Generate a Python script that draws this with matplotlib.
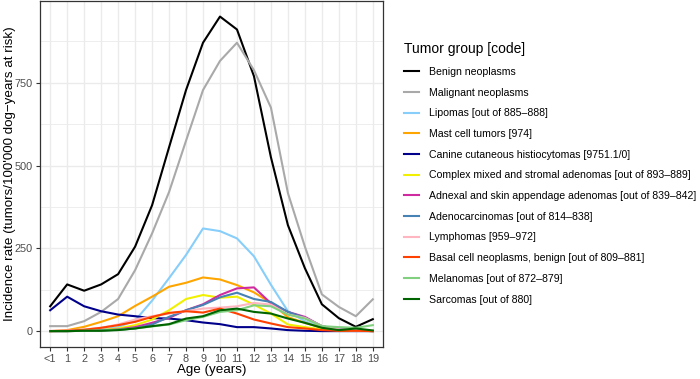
import matplotlib
matplotlib.use("Agg")
import matplotlib.pyplot as plt
from matplotlib.lines import Line2D

plt.rcParams['font.family'] = ['Liberation Sans', 'DejaVu Sans']

ages = ["<1"] + [str(i) for i in range(1, 20)]

benign = [75, 141, 122, 141, 172, 255, 380, 555, 728, 871, 950, 911, 770, 525, 320, 190, 81, 39, 13, 36]
malignant = [15, 15, 30, 58, 97, 184, 295, 420, 575, 728, 816, 871, 788, 675, 417, 255, 111, 73, 45, 96]
lipomas = [0, 0, 2, 5, 12, 32, 92, 160, 230, 310, 302, 280, 226, 140, 60, 30, 10, 5, 2, 0]
mast = [0, 3, 13, 28, 45, 76, 104, 134, 146, 162, 156, 139, 117, 85, 42, 25, 10, 3, 2, 0]
histio = [63, 104, 75, 60, 50, 45, 39, 38, 33, 26, 21, 12, 12, 8, 3, 1, 0, 0, 0, 0]
complex_mixed = [0, 0, 1, 3, 8, 18, 35, 63, 97, 109, 101, 104, 80, 53, 20, 12, 5, 2, 1, 0]
adnexal = [0, 0, 1, 2, 5, 12, 25, 40, 63, 81, 109, 129, 132, 84, 58, 43, 15, 5, 2, 0]
adenocarc = [0, 0, 1, 2, 4, 8, 20, 43, 63, 79, 102, 116, 97, 88, 58, 40, 15, 5, 2, 0]
lymphomas = [1, 2, 5, 10, 20, 35, 45, 53, 60, 68, 71, 75, 85, 80, 50, 40, 15, 5, 2, 0]
basal = [0, 1, 4, 10, 18, 28, 43, 55, 60, 56, 68, 53, 35, 23, 12, 8, 3, 1, 1, 0]
melanomas = [0, 0, 1, 2, 4, 8, 14, 20, 33, 43, 58, 63, 78, 75, 50, 38, 15, 12, 10, 18]
sarcomas = [0, 0, 1, 1, 3, 8, 15, 21, 38, 45, 63, 68, 58, 53, 38, 25, 10, 3, 8, 2]

labels = ["Benign neoplasms", "Malignant neoplasms", "Lipomas [out of 885–888]",
          "Mast cell tumors [974]", "Canine cutaneous histiocytomas [9751.1/0]",
          "Complex mixed and stromal adenomas [out of 893–889]",
          "Adnexal and skin appendage adenomas [out of 839–842]",
          "Adenocarcinomas [out of 814–838]", "Lymphomas [959–972]",
          "Basal cell neoplasms, benign [out of 809–881]",
          "Melanomas [out of 872–879]", "Sarcomas [out of 880]"]
series = [benign, malignant, lipomas, mast, histio, complex_mixed, adnexal,
          adenocarc, lymphomas, basal, melanomas, sarcomas]
colors = ["#000000", "#A9A9A9", "#87CEFA", "#FFA500", "#00008B", "#F0F000",
          "#D02AA0", "#4682B4", "#FFB6C1", "#FF4000", "#80D080", "#006400"]

fig = plt.figure(figsize=(7.0, 3.79), dpi=100)
ax = fig.add_axes([40/700, 1 - 347/379, 343/700, 346/379])

x = list(range(len(ages)))
for s, c in zip(series, colors):
    ax.plot(x, s, color=c, lw=1.5, solid_joinstyle='round', zorder=3)

ax.set_xlim(-0.6, 19.6)
ax.set_ylim(-48, 997)
ax.set_xticks(x)
ax.set_xticklabels(ages)
ax.set_yticks([0, 250, 500, 750])
ax.set_yticks([125, 375, 625, 875], minor=True)
ax.grid(True, which='major', color='#EBEBEB', lw=1.0, zorder=0)
ax.grid(True, which='minor', axis='y', color='#EBEBEB', lw=0.6, zorder=0)
ax.tick_params(axis='both', which='major', length=3, color='#333333',
               labelcolor='#4D4D4D', labelsize=7.8, width=0.8, pad=2)
ax.tick_params(axis='y', which='minor', length=0)
for sp in ax.spines.values():
    sp.set_color('#333333')
    sp.set_linewidth(0.9)
ax.set_xlabel("Age (years)", fontsize=9.6, labelpad=0)
ax.set_ylabel("Incidence rate (tumors/100'000 dog−years at risk)", fontsize=9.6, labelpad=-0.5)

handles = [Line2D([0], [0], color=c, lw=1.5) for c in colors]
leg = fig.legend(handles, labels, title="Tumor group [code]",
                 loc='upper left', bbox_to_anchor=(400/700, 1 - 38/379),
                 frameon=False, fontsize=7.55, title_fontsize=10,
                 handlelength=1.45, handletextpad=0.9, labelspacing=1.02,
                 borderaxespad=0)
leg._legend_box.align = "left"

fig.savefig("out.png", dpi=100)
